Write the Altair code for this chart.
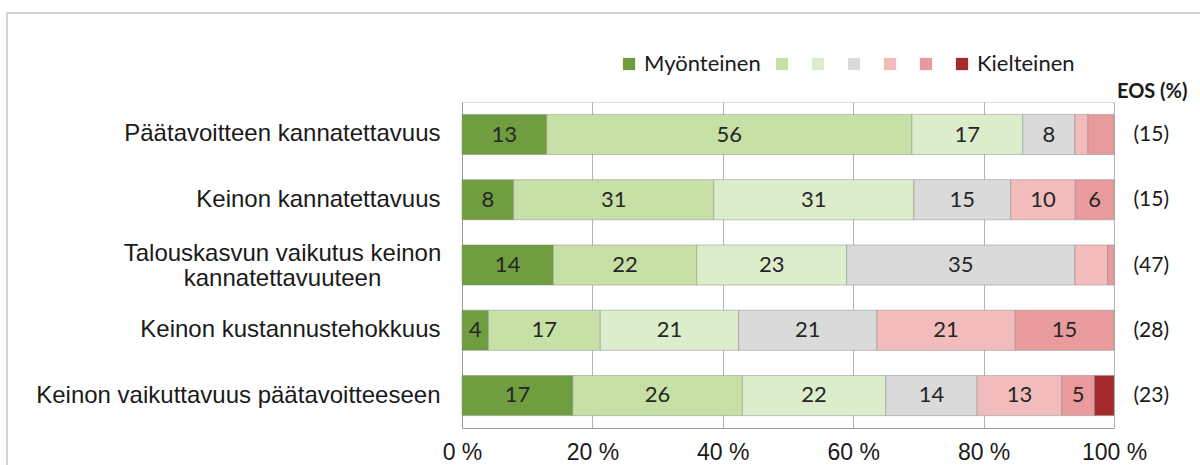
import altair as alt
import pandas as pd

questions = [
    "Päätavoitteen kannatettavuus",
    "Keinon kannatettavuus",
    "Talouskasvun vaikutus keinon kannatettavuuteen",
    "Keinon kustannustehokkuus",
    "Keinon vaikuttavuus päätavoitteeseen",
]
# label lines for the y axis
question_lines = [
    ["Päätavoitteen kannatettavuus"],
    ["Keinon kannatettavuus"],
    ["Talouskasvun vaikutus keinon", "kannatettavuuteen"],
    ["Keinon kustannustehokkuus"],
    ["Keinon vaikuttavuus päätavoitteeseen"],
]
categories = ["c1", "c2", "c3", "c4", "c5", "c6", "c7"]
legend_labels = ["Myönteinen", "", "", "", "", "", "Kielteinen"]
colors = ["#6f9d3f", "#c6e0a6", "#dcedcc", "#dadada", "#f3bcbc", "#e89a9c", "#a52a2a"]

s1 = [13, 8, 14, 4, 17]
s2 = [56, 31, 22, 17, 26]
s3 = [17, 31, 23, 21, 22]
s4 = [8, 15, 35, 21, 14]
s5 = [2, 10, 5, 21, 13]
s6 = [4, 6, 1, 15, 5]
s7 = [0, 0, 0, 0, 3]
series = [s1, s2, s3, s4, s5, s6, s7]
eos = [15, 15, 47, 28, 23]
# segments whose value label is hidden in the original (question index, category index)
hidden_labels = [(0, 5), (2, 4)]
min_label = 4

rows = []
for qi, q in enumerate(questions):
    for ci, c in enumerate(categories):
        v = series[ci][qi]
        if v <= 0:
            continue
        show = v >= min_label and (qi, ci) not in hidden_labels
        rows.append({"question": q, "cat": c, "order": ci, "value": v,
                     "label": str(v) if show else ""})
df = pd.DataFrame(rows)

def js_list(lst):
    return "[" + ",".join("'" + str(s) + "'" for s in lst) + "]"

q_js = js_list(questions)
eos_js = js_list(["(" + str(e) + ")" for e in eos])
lines_js = "[" + ",".join(js_list(l) for l in question_lines) + "]"
legend_js = js_list(legend_labels)
cat_js = js_list(categories)

multi_q = [q for q, l in zip(questions, question_lines) if len(l) > 1]
multi_test = " || ".join("datum.value == '" + q + "'" for q in multi_q)

yscale = alt.Scale(domain=questions, paddingInner=0.385, paddingOuter=0.19)

base = alt.Chart(df).transform_stack(
    stack="value", groupby=["question"], as_=["p0", "p1"],
    sort=[alt.SortField("order", order="ascending")], offset="normalize"
).transform_calculate(
    x0="datum.p0*100", x1="datum.p1*100", mid="(datum.p0+datum.p1)*50"
)

bars = base.mark_bar(stroke="#8a8a8a", strokeWidth=0.7, strokeOpacity=0.7).encode(
    y=alt.Y("question:N", scale=yscale, title=None,
            axis=alt.Axis(
                orient="left", domain=True, domainColor="#9a9a9a", ticks=False,
                labelFont="Liberation Sans", labelFontSize=24, labelColor="#1a1a1a",
                labelAlign={"condition": {"test": multi_test, "value": "center"}, "value": "right"},
                labelPadding={"condition": {"test": multi_test, "value": 180}, "value": 22},
                labelOffset={"condition": {"test": multi_test, "value": -11}, "value": 0},
                labelLineHeight=25, labelLimit=0,
                labelExpr=lines_js + "[indexof(" + q_js + ", datum.value)]",
            )),
    x=alt.X("x0:Q", scale=alt.Scale(domain=[0, 100], nice=False), title=None,
            axis=alt.Axis(values=[0, 20, 40, 60, 80, 100], labelExpr="datum.value + ' %'",
                          grid=True, gridColor="#b3b3b3", gridWidth=1,
                          domain=True, domainColor="#9a9a9a", ticks=False,
                          labelFont="Liberation Sans", labelFontSize=23, labelColor="#1a1a1a",
                          labelPadding=13, labelFlush=False)),
    x2="x1:Q",
    color=alt.Color("cat:N", scale=alt.Scale(domain=categories, range=colors),
                    legend=alt.Legend(
                        orient="none", direction="horizontal", columns=7,
                        legendX=156, legendY=-49, title=None,
                        symbolType="square", symbolSize=150, symbolStrokeWidth=0,
                        labelFont="Lato", labelFontSize=22, labelColor="#1a1a1a",
                        labelOffset=4, columnPadding=10, padding=0,
                        labelExpr=legend_js + "[indexof(" + cat_js + ", datum.value)]",
                    )),
)

labels = base.transform_filter("datum.label != ''").mark_text(
    font="Lato", fontSize=22, color="#262626", baseline="middle", align="center"
).encode(
    x=alt.X("mid:Q", scale=alt.Scale(domain=[0, 100], nice=False)),
    y=alt.Y("question:N", scale=yscale, title="EOS (%)",
            axis=alt.Axis(
                orient="right", domain=False, ticks=False, grid=False,
                labelFont="Lato", labelFontSize=21, labelColor="#1a1a1a",
                labelAlign="left", labelPadding=19,
                labelExpr=eos_js + "[indexof(" + q_js + ", datum.value)]",
                titleAngle=0, titleAlign="right", titleBaseline="alphabetic",
                titleX=73, titleY=-5, titleFont="Lato", titleFontSize=20,
                titleFontWeight="bold", titleColor="#1a1a1a",
            )),
    text="label:N",
)

frame = alt.Chart(alt.Data(values=[{"f": 1}])).mark_rect(
    filled=False, stroke="#c4c4c4", strokeWidth=1.5
).encode(
    x=alt.value(-455), x2=alt.value(800), y=alt.value(-89), y2=alt.value(420)
)

chart = alt.layer(frame, bars, labels).resolve_scale(y="independent").properties(
    width=652, height=326,
    autosize=alt.AutoSizeParams(type="none"),
    padding={"left": 462, "top": 102, "right": 86, "bottom": 37},
).configure_view(stroke=None).configure(background="white")

chart.save("out.html", embed_options={"renderer": "svg", "actions": False})
